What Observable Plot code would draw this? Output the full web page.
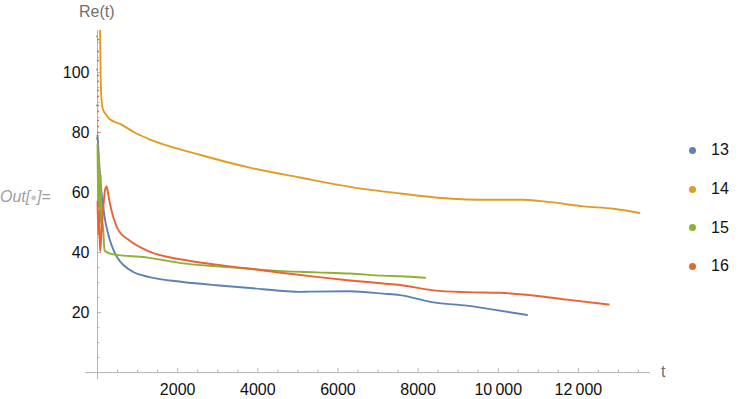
<!DOCTYPE html>
<html>
<head>
<meta charset="utf-8">
<script src="https://cdn.jsdelivr.net/npm/d3@7"></script>
<script src="https://cdn.jsdelivr.net/npm/@observablehq/plot@0.6"></script>
<style>
  html, body { margin: 0; padding: 0; background: #fff; }
  #wrap { position: relative; width: 747px; height: 399px; font-family: "Liberation Sans", Arial, sans-serif; }
  #wrap svg { position: absolute; left: 0; top: 0; }
  .lbl { position: absolute; color: #6e6e6e; font-size: 16px; line-height: 1; white-space: nowrap; }
  #out { position: absolute; left: 0; top: 189px; color: #a0a0a0; font-size: 16px; font-style: italic; line-height: 1; }
  #out .b { color: #c8c8c8; font-style: normal; font-size: 11px; vertical-align: 1px; }
  #legend { position: absolute; left: 689px; top: 131px; }
  .row { display: flex; align-items: center; height: 38.7px; font-size: 16px; color: #111; }
  .sw { width: 7px; height: 7px; border-radius: 50%; margin-right: 15px; }
</style>
</head>
<body>
<div id="wrap">
  <div class="lbl" id="ylab" style="left:79px; top:4px;">Re(t)</div>
  <div class="lbl" id="xlab" style="left:661px; top:364px;">t</div>
  <div id="out">Out[<span class="b">●</span>]=</div>
  <div id="legend"></div>
</div>
<script>
// ---- data ----
const series = ["13", "14", "15", "16"];
const colors = ["#5E81B5", "#E19C24", "#8FB032", "#EB6235"];

const t13 = [0, 30, 60, 100, 140, 175, 250, 300, 400, 500, 667, 883, 1300, 2133, 2967, 3800, 4633, 5050, 5300, 6300, 7133, 7550, 8383, 9217, 9883, 10717];
const v13 = [79, 72, 66, 60, 55.5, 52, 47, 44.5, 40.8, 38.2, 35.6, 33.6, 31.8, 30.2, 29.1, 28.2, 27.2, 26.9, 27.0, 27.1, 26.3, 25.8, 23.4, 22.3, 21, 19.2];

const t14 = [60, 70, 80, 95, 130, 210, 300, 575, 925, 1300, 2550, 3800, 5050, 6300, 7550, 8675, 9200, 9800, 10625, 11300, 12125, 12875, 13525];
const v14 = [116, 108, 98, 92, 88, 86, 84.5, 82.8, 80.0, 77.7, 72.6, 68.3, 65, 61.9, 59.7, 58.1, 57.7, 57.6, 57.6, 56.8, 55.4, 54.6, 53.2];

const t15 = [0, 20, 40, 60, 80, 100, 130, 175, 383, 1217, 2133, 2967, 3800, 4633, 5467, 6300, 7133, 7550, 8175];
const v15 = [76, 55, 73, 50, 66, 47, 50, 40.6, 39.4, 38.4, 36.4, 35.4, 34.6, 33.8, 33.4, 33, 32.3, 32.1, 31.6];

const t16 = [0, 20, 40, 55, 67, 100, 150, 190, 225, 260, 300, 400, 500, 800, 1300, 2133, 2967, 3800, 4633, 5467, 6300, 7133, 7550, 8383, 9217, 10050, 10883, 11717, 12758];
const v16 = [57, 46, 54, 44, 40.4, 47, 56, 61, 62, 60, 57, 51.5, 48, 44, 40.3, 37.6, 36, 34.6, 33.2, 31.9, 30.7, 29.7, 29.2, 27.4, 26.8, 26.6, 25.7, 24.3, 22.7];

// early scattered samples hugging the vertical axis
const scatter16T = 12;
const scatter16 = [111, 107, 104, 99, 97, 94, 92, 89, 87, 84, 82, 80, 77, 74, 71, 68, 65, 62, 59];
const scatter15T = -15;
const scatter15 = [112, 101, 89, 78];

const xDomain = [-300, 13800];
const yDomain = [-2.3, 114];
const xTickValues = [2000, 4000, 6000, 8000, 10000, 12000];
const xTickLabels = ["2000", "4000", "6000", "8000", "10\u2009000", "12\u2009000"];
const xMinor = d3.range(500, 13800, 500).filter(v => v % 2000 !== 0);
const yTickValues = [20, 40, 60, 80, 100];
const yTickLabels = ["20", "40", "60", "80", "100"];
const yMinor = d3.range(5, 114, 5).filter(v => v % 20 !== 0);

// ---- build rows ----
const tArr = [t13, t14, t15, t16], vArr = [v13, v14, v15, v16];
const rows = [];
series.forEach((s, i) => tArr[i].forEach((t, j) => rows.push({s, t, v: vArr[i][j]})));

const axisColor = "#b4b4b4";
const W = 747, H = 399, mL = 85, mR = 97, mT = 30, mB = 20;
const xPerPx = (xDomain[1] - xDomain[0]) / (W - mL - mR);
const yPerPx = (yDomain[1] - yDomain[0]) / (H - mT - mB);

const chart = Plot.plot({
  width: W, height: H,
  marginLeft: mL, marginRight: mR, marginTop: mT, marginBottom: mB,
  style: {fontFamily: "Liberation Sans, Arial, sans-serif", fontSize: "16px", background: "transparent"},
  x: {domain: xDomain, axis: null},
  y: {domain: yDomain, axis: null},
  color: {domain: series, range: colors},
  marks: [
    Plot.ruleY([0], {stroke: axisColor, strokeWidth: 1}),
    Plot.ruleX([0], {stroke: axisColor, strokeWidth: 1}),
    Plot.ruleX(xTickValues, {x: d => d, y1: () => 0, y2: () => 4 * yPerPx, stroke: axisColor}),
    Plot.ruleX(xMinor, {x: d => d, y1: () => 0, y2: () => 2.5 * yPerPx, stroke: axisColor}),
    Plot.ruleY(yTickValues, {y: d => d, x1: () => 0, x2: () => 4 * xPerPx, stroke: axisColor}),
    Plot.ruleY(yMinor, {y: d => d, x1: () => 0, x2: () => 2.5 * xPerPx, stroke: axisColor}),
    Plot.text(xTickValues, {x: d => d, y: () => 0, text: (d, i) => xTickLabels[i], dy: 17, fill: "#111", fontSize: 16}),
    Plot.text(yTickValues, {x: () => 0, y: d => d, text: (d, i) => yTickLabels[i], dx: -8, textAnchor: "end", fill: "#111", fontSize: 16}),
    Plot.dot(scatter16, {x: () => scatter16T, y: d => d, r: 1, fill: colors[3], stroke: null}),
    Plot.dot(scatter15, {x: () => scatter15T, y: d => d, r: 1, fill: colors[2], stroke: null}),
    Plot.line(rows, {x: "t", y: "v", z: "s", stroke: "s", strokeWidth: 1.9, curve: "monotone-x", clip: true})
  ]
});
document.getElementById("wrap").prepend(chart);

// legend from series/colors
const lg = document.getElementById("legend");
series.forEach((s, i) => {
  const row = document.createElement("div");
  row.className = "row";
  const sw = document.createElement("div");
  sw.className = "sw";
  sw.style.background = colors[i];
  const tx = document.createElement("span");
  tx.textContent = s;
  row.append(sw, tx);
  lg.append(row);
});
</script>
</body>
</html>
